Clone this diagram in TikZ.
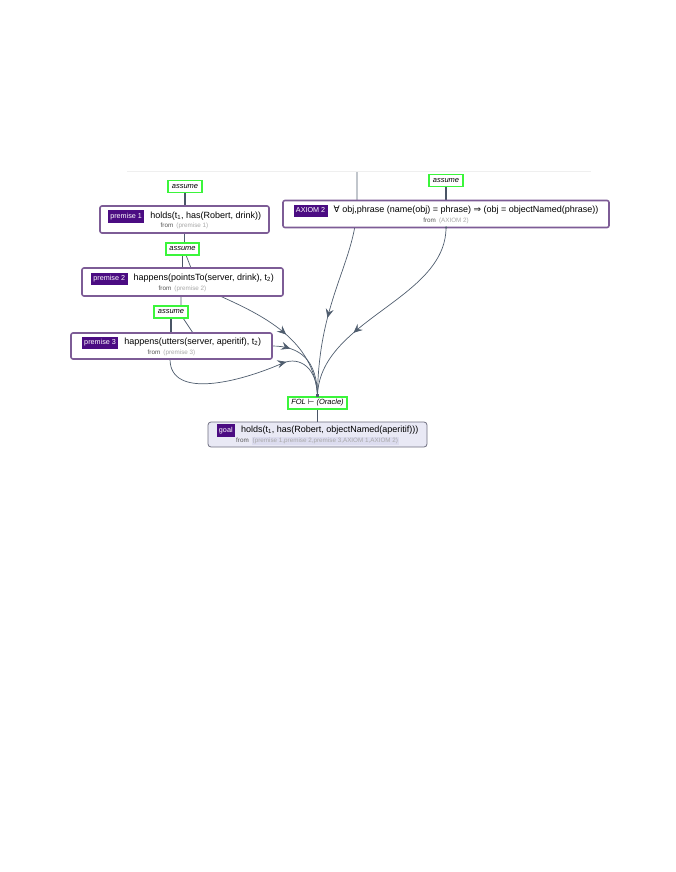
\documentclass[tikz,border=0pt]{standalone}
\usepackage{fontspec}
\setmainfont{Liberation Sans}
\newfontfamily\glyphfont{DejaVu Sans}
\usetikzlibrary{arrows.meta}
\usetikzlibrary{decorations.markings}
\usetikzlibrary{positioning}
\usetikzlibrary{backgrounds}

\definecolor{factline}{HTML}{7D5C96}
\definecolor{tagcol}{HTML}{4B0C82}
\definecolor{rulegreen}{HTML}{3BF53B}
\definecolor{edgegray}{HTML}{4F5D6E}
\definecolor{linkgray}{HTML}{4A5566}
\definecolor{fromdark}{HTML}{555555}
\definecolor{fromgray}{HTML}{A8A8A8}
\definecolor{goalfill}{HTML}{E9E9F5}
\definecolor{goalline}{HTML}{6E6E80}
\definecolor{hilite}{HTML}{DCDCEF}
\definecolor{panelline}{HTML}{EFEFEF}

\newcommand{\factlabel}[1]{{\setlength{\fboxsep}{2.4pt}\colorbox{tagcol}{\color{white}\fontsize{7.2}{8}\selectfont\strut #1}}}
\newcommand{\fromlist}[1]{{\fontsize{6.3}{7}\selectfont\color{fromdark}from\enspace\color{fromgray}(#1)}}
\newcommand{\fromhilite}[1]{{\fontsize{6.3}{7}\selectfont\color{fromdark}from\enspace{\setlength{\fboxsep}{0.8pt}\colorbox{hilite}{\color{fromgray}(#1)}}}}

\tikzset{
  fact/.style={draw=factline, line width=1.6pt, rounded corners=2pt, fill=white,
    inner sep=0pt, outer sep=0pt, align=center, font=\fontsize{9}{10}\selectfont},
  goalbox/.style={draw=goalline, line width=0.8pt, rounded corners=3pt, fill=goalfill,
    inner sep=0pt, outer sep=0pt, align=center, font=\fontsize{9}{10}\selectfont},
  rulebox/.style={draw=rulegreen, line width=1.3pt, fill=white, inner sep=0pt, outer sep=0pt,
    minimum height=12pt, font=\fontsize{7.5}{8}\selectfont\itshape},
  infer/.style={color=edgegray, line width=0.7pt},
  link/.style={draw=linkgray, line width=1.4pt},
  midtip/.style={postaction={decorate, decoration={markings,
    mark=at position -#1 with {\arrow{Stealth[length=9pt, width=8pt, inset=3.3pt]}}}}},
}

\begin{document}
\begin{tikzpicture}[x=1pt, y=-1pt]
  \useasboundingbox (0,0) rectangle (676,872);

  % premises on the left
  \node[rulebox, minimum width=34pt] (as1) at (185,186.5) {assume};
  \node[fact, minimum width=169pt, minimum height=27pt, below=13.5pt of as1, xshift=-0.5pt] (p1)
    {\factlabel{premise 1}\hspace{6pt}holds(t\textsubscript{1}, has(Robert, drink))\\[-0.5pt]\fromlist{premise 1}};
  \node[rulebox, minimum width=33pt, below=10pt of p1, xshift=-2pt] (as2) {assume};
  \node[fact, minimum width=201pt, minimum height=28pt, below=13pt of as2] (p2)
    {\factlabel{premise 2}\hspace{6pt}happens(pointsTo(server, drink), t\textsubscript{2})\\[-0.5pt]\fromlist{premise 2}};
  \node[rulebox, minimum width=34pt, below=10pt of p2, xshift=-11.5pt] (as3) {assume};
  \node[fact, minimum width=201pt, minimum height=26pt, below=15pt of as3, xshift=0.5pt] (p3)
    {\factlabel{premise 3}\hspace{6pt}happens(utters(server, aperitif), t\textsubscript{2})\\[-0.5pt]\fromlist{premise 3}};

  % axiom on the right
  \node[rulebox, minimum width=34pt] (as4) at (446,180.5) {assume};
  \node[fact, minimum width=326pt, minimum height=27pt, below=14pt of as4] (ax2)
    {\factlabel{AXIOM 2}\hspace{6pt}{\glyphfont ∀} obj,phrase (name(obj) = phrase) {\glyphfont ⇒} (obj = objectNamed(phrase))\\[-0.5pt]\fromlist{AXIOM 2}};

  % inference and goal
  \node[rulebox, minimum width=59pt] (fol) at (317.5,403) {FOL {\glyphfont ⊢} (Oracle)};
  \node[goalbox, minimum width=219pt, minimum height=25pt, below=13pt of fol] (goal)
    {\factlabel{goal}\hspace{6pt}holds(t\textsubscript{1}, has(Robert, objectNamed(aperitif)))\\[-0.5pt]\fromhilite{premise 1,premise 2,premise 3,AXIOM 1,AXIOM 2}};

  \coordinate (ax1) at (357,172);

  \begin{pgfonlayer}{background}
    \draw[panelline, line width=0.6pt] (127,171) -- (591,171);

    \draw[link] (as1.south) -- (as1.south |- p1.north);
    \draw[link] (as2.south) -- (as2.south |- p2.north);
    \draw[link] (as3.south) -- (as3.south |- p3.north);
    \draw[link] (as4.south) -- (as4.south |- ax2.north);
    \draw[link] (fol.south) -- (fol.south |- goal.north);

    \draw[infer, midtip=80pt] (ax1) -- (357,205) .. controls (356,262) and (318,300) .. (fol.north);
    \draw[infer, midtip=76pt] (ax2.south) .. controls (446,300) and (318,320) .. (fol.north);
    \draw[infer, midtip=72pt] ([xshift=37.5pt]p2.south) .. controls (262,315) and (315,340) .. (fol.north);
    \draw[infer, midtip=60pt] (p3.east) .. controls (300,346) and (317.5,360) .. (fol.north);
    \draw[infer, midtip=55pt] (p1.south) -- (184.5,243) -- (186,255) -- (191,268) -- (181,296)
      -- (181,306) -- (183,318) -- (193,333) -- (170,359)
      .. controls (170,400) and (240,382) .. (283,363)
      .. controls (300,356) and (317.5,368) .. (fol.north);
  \end{pgfonlayer}

  \node[fill=edgegray, inner sep=0pt, minimum size=3pt, anchor=south] (join) at (fol.north) {};
  \node[circle, fill=edgegray, inner sep=0pt, minimum size=2.5pt] (ax2dot) at (ax2.south) {};
\end{tikzpicture}
\end{document}
